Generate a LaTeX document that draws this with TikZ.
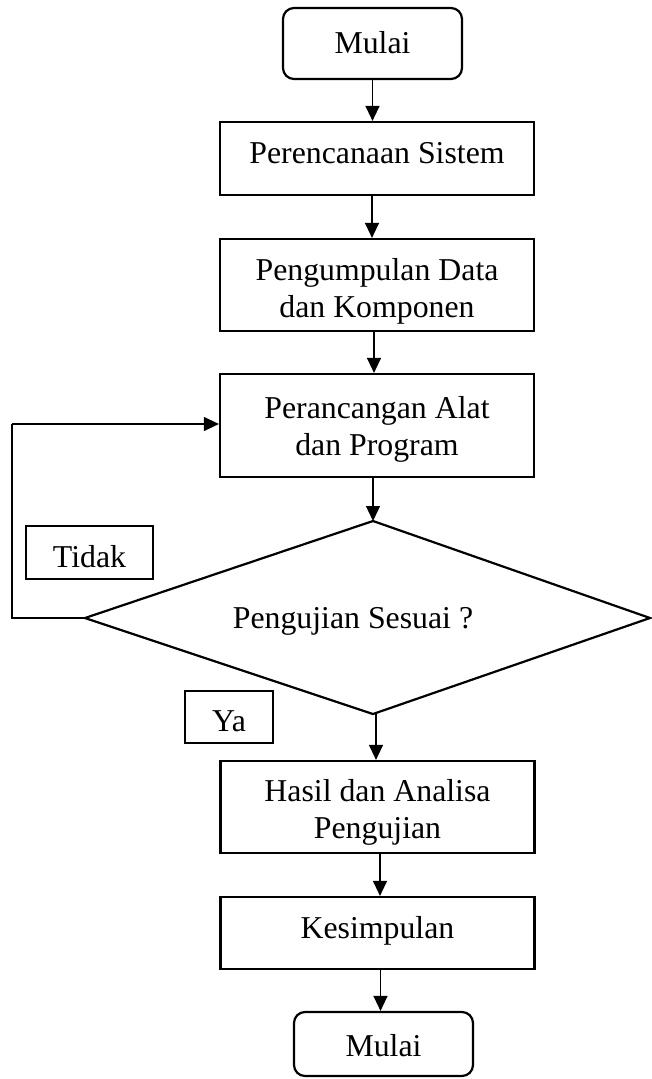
\documentclass[tikz,border=0pt]{standalone}
\usepackage{fontspec}
\setmainfont{Liberation Serif}
\usetikzlibrary{arrows.meta,calc}
\newcommand\twolines[2]{\begin{tabular}[t]{@{}c@{}}#1\\#2\end{tabular}}
\begin{document}
\begin{tikzpicture}[x=1pt,y=-1pt,
  txt/.style={font=\fontsize{31.8}{37}\selectfont,inner sep=0pt},
  bl/.style={text height={15pt+(#1pt)},text depth={15pt-(#1pt)}},
  box/.style={txt,draw,line width=2.2pt,minimum width=314pt},
  term/.style={txt,draw,line width=2.2pt,rounded corners=11pt,minimum width=179pt},
  lbl/.style={txt,draw,line width=2pt},
  arr/.style={line width=1.3pt,-{Triangle[width=14pt,length=15pt]}},
  thin/.style={line width=1.1pt}]
\useasboundingbox (0,0) rectangle (651,1079);
\node[term,bl=9.8,minimum height=71pt] (start) at (372.5,43.5) {Mulai};
\node[box,bl=5,minimum height=73pt] (p1) at (377,158.5) {Perencanaan Sistem};
\node[box,bl=-5,minimum height=92pt] (p2) at (377,285) {\twolines{Pengumpulan Data}{dan Komponen}};
\node[box,bl=-7,minimum height=103pt] (p3) at (377,425.5) {\twolines{Perancangan Alat}{dan Program}};
\coordinate (dT) at (373,521);
\coordinate (dL) at (85,618);
\coordinate (dR) at (650,618);
\coordinate (dB) at (373,714);
\draw[line width=2.2pt,line join=miter] (dT) -- (dR) -- (dB) -- (dL) -- cycle;
\node[txt,bl=10] (dq) at (353,618) {Pengujian Sesuai ?};
\node[lbl,bl=15.8,minimum width=127pt,minimum height=53pt] (tidak) at (89.5,552.5) {Tidak};
\node[lbl,bl=14.7,minimum width=88pt,minimum height=52pt] (ya) at (229,717) {Ya};
\node[box,bl=-6,minimum height=92pt] (p4) at (377.5,807) {\twolines{Hasil dan Analisa}{Pengujian}};
\node[box,bl=5.3,minimum height=72pt] (p5) at (377.5,933) {Kesimpulan};
\node[term,bl=12.7,minimum height=64pt] (stop) at (383.5,1044) {Mulai};
\coordinate (fb1) at (12,618);
\coordinate (fb2) at (12,424);
\draw[arr] (start.south) -- (start.south |- p1.north);
\draw[arr] ($(p1.south)+(-5,0)$) -- ($(p1.south |- p2.north)+(-5,0)$);
\draw[arr] ($(p2.south)+(-3,0)$) -- ($(p2.south |- p3.north)+(-3,0)$);
\draw[arr] ($(p3.south)+(-4,0)$) -- (dT);
\draw[arr] ($(dB)+(3,0)$) -- ($(dB |- p4.north)+(3,0)$);
\draw[arr] ($(p4.south)+(2.5,0)$) -- ($(p4.south |- p5.north)+(2.5,0)$);
\draw[arr] ($(p5.south)+(3,0)$) -- ($(p5.south |- stop.north)+(3,0)$);
\draw[thin] (dL) -- (fb1) -- (fb2);
\draw[arr,line width=1.1pt] (fb2) -- (fb2 -| p3.west);
\end{tikzpicture}
\end{document}
